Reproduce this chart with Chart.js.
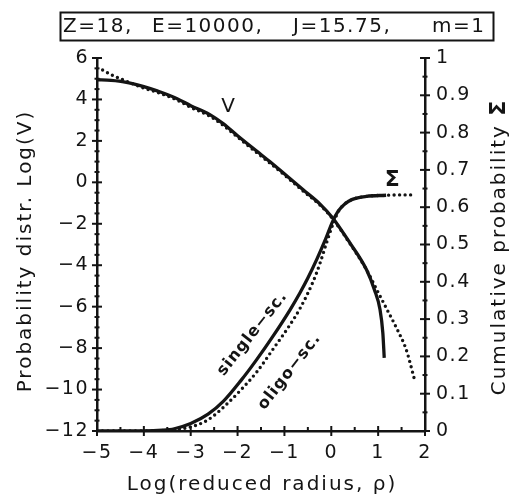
<!DOCTYPE html>
<html>
<head>
<meta charset="utf-8">
<script src="https://cdn.jsdelivr.net/npm/chart.js@4.4.1/dist/chart.umd.min.js"></script>
<style>
  html, body { margin: 0; padding: 0; background: #fff; }
  #wrap { width: 513px; height: 499px; }
</style>
</head>
<body>
<div id="wrap"><canvas id="c" width="513" height="499"></canvas></div>
<script>
// Run parameters shown in the boxed header
const headerParts = ["Z=18,", "E=10000,", "J=15.75,", "m=1"];
const xTitle = "Log(reduced radius, ρ)";
const yTitle = "Probability distr. Log(V)";
const y1TitleText = "Cumulative probability ";
const y1TitleSymbol = "Σ";

// Probability distribution Log(V), single scattering (solid)
const vSingleX = [-5, -4.7, -4.4, -4.0, -3.7, -3.3, -3.0, -2.6, -2.3, -2.0, -1.6, -1.3, -0.94, -0.6, -0.24, 0.03, 0.39, 0.75, 0.92, 1.04, 1.10, 1.13];
const vSingleY = [4.95, 4.92, 4.84, 4.62, 4.40, 4.05, 3.70, 3.28, 2.82, 2.25, 1.52, 0.98, 0.29, -0.36, -1.05, -1.72, -2.90, -4.21, -5.18, -6.14, -7.26, -8.47];

// Probability distribution Log(V), oligo scattering (dotted)
const vOligoX = [-4.88, -4.7, -4.5, -4.2, -4.0, -3.7, -3.3, -3.0, -2.6, -2.3, -2.0, -1.6, -1.3, -0.94, -0.6, -0.24, 0.03, 0.39, 0.75, 0.97, 1.19, 1.41, 1.60, 1.78];
const vOligoY = [5.42, 5.20, 5.00, 4.72, 4.55, 4.33, 3.98, 3.62, 3.20, 2.74, 2.18, 1.45, 0.91, 0.24, -0.42, -1.10, -1.76, -2.93, -4.21, -5.18, -6.14, -7.11, -8.08, -9.55];

// Cumulative probability Σ, single scattering (solid)
const sigSingleX = [-5, -4, -3.6, -3.35, -3.0, -2.63, -2.3, -1.93, -1.6, -1.24, -0.88, -0.67, -0.5, -0.31, -0.12, 0.03, 0.15, 0.3, 0.45, 0.75, 1.17];
const sigSingleY = [0, 0, 0.002, 0.006, 0.02, 0.045, 0.08, 0.135, 0.19, 0.255, 0.325, 0.37, 0.41, 0.46, 0.515, 0.562, 0.59, 0.61, 0.621, 0.629, 0.632];

// Cumulative probability Σ, oligo scattering (dotted)
const sigOligoX = [-5, -4, -3.5, -3.0, -2.63, -2.29, -1.93, -1.58, -1.24, -0.88, -0.67, -0.39, -0.24, -0.1, 0.03, 0.15, 0.3, 0.45, 0.75, 1.17, 1.5, 1.78];
const sigOligoY = [0, 0, 0.002, 0.011, 0.03, 0.065, 0.11, 0.16, 0.22, 0.285, 0.328, 0.40, 0.45, 0.505, 0.553, 0.588, 0.61, 0.621, 0.629, 0.632, 0.633, 0.633];

// Curve annotations: text, data position, axis, rotation (deg), font
const notes = [
  { text: "V", x: -2.20, y: 3.63, axis: "y", rot: 0, font: "20px 'DejaVu Sans'" },
  { text: "Σ", x: 1.30, y: 0.673, axis: "y1", rot: 0, font: "bold 22px 'DejaVu Sans'" },
  { text: "single−sc.", x: -1.69, y: 0.26, axis: "y1", rot: -51.5, font: "bold 16px 'DejaVu Sans'" },
  { text: "oligo−sc.", x: -0.90, y: 0.158, axis: "y1", rot: -52, font: "bold 16px 'DejaVu Sans'" }
];

const INK = "#141414";
const FONT = "'DejaVu Sans'";
const zip = (xs, ys) => xs.map((x, i) => ({ x, y: ys[i] }));
const minusSign = s => String(s).replace(/-/g, "\u2212");

const solid = { borderColor: INK, borderWidth: 3.3, pointRadius: 0, cubicInterpolationMode: "monotone", fill: false };
const dotted = { borderColor: INK, borderWidth: 3.4, borderDash: [0, 5.5], borderCapStyle: "round", pointRadius: 0, cubicInterpolationMode: "monotone", fill: false };

const spacing = chart => { chart.ctx.letterSpacing = "1.5px"; };

// Draws text centred on the origin, ignoring the trailing letter gap
function centred(ctx, text, gap) {
  const w = ctx.measureText(text).width - gap;
  ctx.textAlign = "left";
  ctx.fillText(text, -w / 2, 0);
}

// Axis tick marks that cross the axis line, plus header box and labels
const decor = {
  id: "decor",
  beforeLayout: spacing,
  beforeDraw: spacing,
  afterDraw(chart) {
    const ctx = chart.ctx;
    const { x, y, y1 } = chart.scales;
    const area = chart.chartArea;
    ctx.save();
    ctx.strokeStyle = INK;
    ctx.fillStyle = INK;
    ctx.lineWidth = 2;
    ctx.lineCap = "butt";
    const seg = (x0, y0, x1, y1_) => { ctx.beginPath(); ctx.moveTo(x0, y0); ctx.lineTo(x1, y1_); ctx.stroke(); };

    // x axis
    for (let v = -5; v <= 2.001; v += 0.5) {
      const px = x.getPixelForValue(v);
      const major = Math.abs(v - Math.round(v)) < 1e-6;
      if (major) seg(px, area.bottom - 5, px, area.bottom + 5);
      else seg(px, area.bottom - 4, px, area.bottom + 1);
    }
    // left axis
    for (let v = -12; v <= 6.001; v += 0.5) {
      const py = y.getPixelForValue(v);
      const major = Math.abs(v / 2 - Math.round(v / 2)) < 1e-6;
      if (major) seg(area.left - 5, py, area.left + 5, py);
      else seg(area.left - 2.5, py, area.left + 2.5, py);
    }
    // right axis
    for (let i = 0; i <= 20; i++) {
      const py = y1.getPixelForValue(i * 0.05);
      if (i % 2 === 0) seg(area.right - 5, py, area.right + 5, py);
      else seg(area.right - 2.5, py, area.right + 2.5, py);
    }

    ctx.letterSpacing = "1.5px";
    // header box
    ctx.lineWidth = 2;
    ctx.strokeRect(60.5, 12.5, 433, 28);
    ctx.font = "20px " + FONT;
    ctx.textBaseline = "alphabetic";
    ctx.textAlign = "left";
    const headerX = [63, 152, 293, 432];
    headerParts.forEach((t, i) => ctx.fillText(t, headerX[i], 32));

    // axis titles
    ctx.letterSpacing = "2px";
    ctx.font = "20px " + FONT;
    ctx.save();
    ctx.translate((area.left + area.right) / 2, 490);
    centred(ctx, xTitle, 2);
    ctx.restore();

    ctx.save();
    ctx.translate(31, 252);
    ctx.rotate(-Math.PI / 2);
    centred(ctx, yTitle, 2);
    ctx.restore();

    ctx.save();
    ctx.translate(505, 248);
    ctx.rotate(-Math.PI / 2);
    ctx.textAlign = "left";
    ctx.font = "20px " + FONT;
    const wA = ctx.measureText(y1TitleText).width;
    ctx.font = "bold 22px " + FONT;
    const wB = ctx.measureText(y1TitleSymbol).width - 2;
    const start = -(wA + wB) / 2;
    ctx.font = "20px " + FONT;
    ctx.fillText(y1TitleText, start, 0);
    ctx.font = "bold 22px " + FONT;
    ctx.fillText(y1TitleSymbol, start + wA, 0);
    ctx.restore();

    // curve annotations
    ctx.textBaseline = "middle";
    ctx.letterSpacing = "1px";
    notes.forEach(n => {
      const px = x.getPixelForValue(n.x);
      const py = chart.scales[n.axis].getPixelForValue(n.y);
      ctx.save();
      ctx.translate(px, py);
      ctx.rotate(n.rot * Math.PI / 180);
      ctx.font = n.font;
      centred(ctx, n.text, 1);
      ctx.restore();
    });
    ctx.restore();
  }
};

new Chart(document.getElementById("c"), {
  type: "line",
  data: {
    datasets: [
      { ...solid, label: "V single", yAxisID: "y", data: zip(vSingleX, vSingleY) },
      { ...dotted, label: "V oligo", yAxisID: "y", data: zip(vOligoX, vOligoY) },
      { ...solid, label: "Σ single", yAxisID: "y1", data: zip(sigSingleX, sigSingleY) },
      { ...dotted, label: "Σ oligo", yAxisID: "y1", data: zip(sigOligoX, sigOligoY) }
    ]
  },
  options: {
    responsive: false,
    devicePixelRatio: 1,
    animation: false,
    layout: { padding: { top: 58, left: 0, right: 0, bottom: 0 } },
    plugins: { legend: { display: false }, tooltip: { enabled: false }, title: { display: false } },
    scales: {
      x: {
        type: "linear", min: -5, max: 2,
        grid: { display: false, drawTicks: false },
        border: { display: true, color: INK, width: 2.5 },
        ticks: { stepSize: 1, color: INK, font: { family: FONT, size: 19 }, padding: 11, maxRotation: 0,
                 callback: v => minusSign(v) },
        afterFit: s => { s.height = 68; }
      },
      y: {
        type: "linear", position: "left", min: -12, max: 6,
        grid: { display: false, drawTicks: false },
        border: { display: true, color: INK, width: 2.5 },
        ticks: { stepSize: 2, color: INK, font: { family: FONT, size: 19 }, padding: 8,
                 callback: v => minusSign(v) },
        afterFit: s => { s.width = 97; }
      },
      y1: {
        type: "linear", position: "right", min: 0, max: 1,
        grid: { display: false, drawTicks: false },
        border: { display: true, color: INK, width: 2.5 },
        ticks: { stepSize: 0.1, color: INK, font: { family: FONT, size: 19 }, padding: 11,
                 callback: v => String(+v.toFixed(1)) },
        afterFit: s => { s.width = 88; }
      }
    }
  },
  plugins: [decor]
});
</script>
</body>
</html>
